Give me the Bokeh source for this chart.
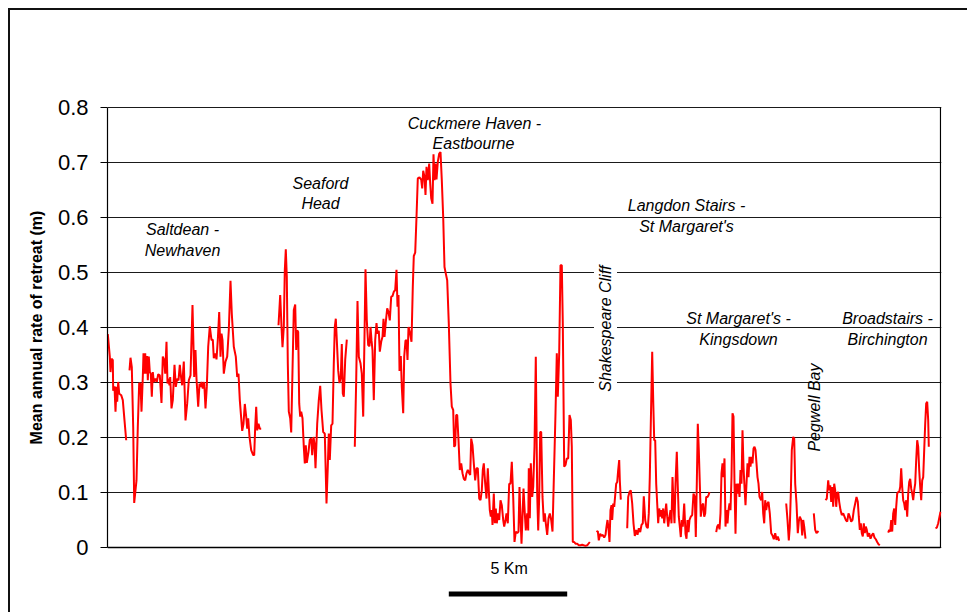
import math
import numpy as np
from bokeh.plotting import figure
from bokeh.models import FixedTicker, Label, Range1d, ColumnDataSource
from bokeh.core.properties import value
from bokeh.embed import file_html
from bokeh.resources import INLINE

# ---------------- data (chainage units along the coast; 118.4 units = 5 km) ----------------
UNITS_PER_KM = 118.4 / 5.0
CHAIN_MAX = 833.0

seg1_chain = [0.3, 2.3, 3, 4, 5.3, 5.7, 7, 8, 9, 9.7, 10.7, 11.7, 13.7, 15.3, 17, 18.7]
seg1_rate = [0.388, 0.347, 0.319, 0.343, 0.341, 0.285, 0.293, 0.247, 0.292, 0.265, 0.301, 0.28, 0.277, 0.268, 0.231, 0.195]

seg2_chain = [22, 23, 24.3, 25.7, 26.7, 29, 30.3, 31.7, 33, 34, 35.3, 36, 37, 37.7, 38.7, 39.7, 40.3, 41.3, 42.3, 43.3,
              44.3, 45.3, 46.3, 48, 49.3, 50.7, 52.3, 54, 55.3, 56.7, 57.7, 59, 60, 61, 62, 62.7, 64, 65.3, 67, 68.3,
              69.7, 71, 72.3, 73.3, 74.7, 76.3, 78, 79.7, 81.3, 83, 85, 86.7, 88, 89, 90.7, 92, 93, 94, 95.3, 96.7,
              98, 99.3, 100.7, 102.3, 104, 105.3, 106.3, 107.7, 109, 110.3, 111.7, 113, 114, 115, 116.3, 118, 119.7,
              121.3, 123, 124.3, 126.3, 128.3, 129.7, 131, 132.3, 134.7, 136, 137.3, 138.7, 139.7, 140.7, 142, 143.7,
              145.7, 146.7, 147.7, 148.7, 149.7, 151, 152.3, 153.7]
seg2_rate = [0.322, 0.345, 0.328, 0.219, 0.081, 0.122, 0.219, 0.299, 0.298, 0.247, 0.31, 0.353, 0.316, 0.353, 0.316,
             0.348, 0.304, 0.347, 0.319, 0.316, 0.274, 0.319, 0.301, 0.307, 0.301, 0.315, 0.313, 0.263, 0.347, 0.341,
             0.316, 0.374, 0.298, 0.307, 0.295, 0.31, 0.253, 0.268, 0.332, 0.292, 0.307, 0.304, 0.332, 0.313, 0.295,
             0.338, 0.231, 0.262, 0.304, 0.313, 0.441, 0.31, 0.359, 0.307, 0.256, 0.298, 0.292, 0.301, 0.289, 0.301,
             0.253, 0.292, 0.365, 0.402, 0.377, 0.378, 0.344, 0.353, 0.342, 0.377, 0.428, 0.347, 0.389, 0.377, 0.316,
             0.338, 0.347, 0.395, 0.485, 0.425, 0.365, 0.347, 0.31, 0.316, 0.268, 0.212, 0.225, 0.261, 0.238, 0.216,
             0.235, 0.201, 0.177, 0.168, 0.168, 0.219, 0.256, 0.213, 0.225, 0.216, 0.216]

seg3_chain = [171, 172.7, 174, 175, 176.3, 177.3, 178.3, 179.3, 180.3, 181.3, 182.7, 183.7, 185, 186.3, 187.7, 188.7,
              189.7, 190.7, 191.7, 192.7, 193.7, 195, 196.3, 197.3, 198.3, 199.3, 201, 202.3, 203.7, 204.7, 206, 207,
              208, 209.7, 211.3, 212.7, 214, 215.7, 217.3, 219, 220.3, 221.3, 222.3, 223.7, 225, 226.3, 227.3, 228.3,
              229.3, 230.7, 232, 233.3, 234.3, 235.3, 236.3, 237.7, 239.3]
seg3_rate = [0.404, 0.459, 0.401, 0.364, 0.401, 0.504, 0.542, 0.492, 0.335, 0.247, 0.235, 0.209, 0.322, 0.432, 0.442,
             0.359, 0.395, 0.392, 0.262, 0.238, 0.247, 0.235, 0.183, 0.153, 0.186, 0.154, 0.174, 0.196, 0.198, 0.168,
             0.201, 0.189, 0.144, 0.225, 0.268, 0.294, 0.25, 0.21, 0.207, 0.08, 0.147, 0.207, 0.159, 0.222, 0.225,
             0.335, 0.401, 0.416, 0.377, 0.322, 0.299, 0.31, 0.37, 0.28, 0.274, 0.341, 0.378]

seg4_chain = [247.3, 248.7, 250, 251.3, 253, 254.3, 255.7, 257, 258, 259.3, 260.7, 262, 263, 264, 265, 266.3, 267.7,
              269, 270, 271.3, 272.3, 273.7, 275, 276, 277, 278.3, 279.7, 281, 282.3, 283.7, 285, 286.3, 287.7, 289,
              290, 291, 292, 293.3, 294.3, 295.7, 296.7, 298, 299, 300, 301,
              302.3, 304, 305.3, 306.3, 307.7, 309, 310.3, 312, 313.7, 314.7, 315.7, 317, 318, 319, 320.3, 321.7,
              322.7, 323.7, 325, 326, 327, 328, 329, 330.3, 331.7, 333, 334.3, 335.7, 337, 338.3, 339.7, 341.3, 343,
              344.3, 345.7, 346.7, 347.7, 348.7, 349.7, 351, 352.3, 353.7, 355, 356.3, 357.7, 359, 360.3, 361.7,
              362.7, 363.7, 365, 366.3, 367.7, 369, 370.3, 371.7, 373, 374.3, 375.3, 376.3, 377.7, 379, 380.3, 381.3,
              382.3, 383.3, 384.3, 385, 386.3, 387.3, 388.3, 389.3, 390.3, 391.7, 393, 394.3, 395.7, 396.7, 398, 399,
              400.3, 401.7, 403, 404.3, 405.7, 407, 408.3, 409.7, 411, 412, 413, 414, 415, 416, 417.3, 418.3, 419.7,
              420.7, 421.3, 422.3, 423.3, 424.7, 425.7, 427, 428.3, 429.7, 430.7, 431.7, 432.7, 433.7, 435, 436.3,
              437.3, 438.3, 439.7, 441, 442.3, 443.7, 445, 446.3, 448, 449.3, 450.3, 451.7, 453, 454.3, 455.3, 456.7,
              458, 459.3, 460.7, 462, 463.3, 464.3, 465.3, 466.7, 468, 469.7, 471.3, 473, 474.7, 478, 479.7, 482.3]
seg4_rate = [0.183, 0.304, 0.448, 0.347, 0.335, 0.316, 0.238, 0.383, 0.506, 0.413, 0.368, 0.366, 0.401, 0.377, 0.359,
             0.268, 0.377, 0.408, 0.389, 0.394, 0.356, 0.374, 0.383, 0.416, 0.383, 0.41, 0.435, 0.428, 0.413, 0.456,
             0.457, 0.465, 0.468, 0.505, 0.438, 0.459, 0.321, 0.348, 0.292, 0.244, 0.347, 0.376, 0.377, 0.341, 0.401,
             0.392, 0.374, 0.474, 0.53, 0.536, 0.601, 0.671, 0.673, 0.669, 0.653, 0.685, 0.674, 0.641, 0.692, 0.668,
             0.698, 0.662, 0.635, 0.625, 0.715, 0.668, 0.698, 0.669, 0.701, 0.716, 0.719, 0.668, 0.601, 0.51, 0.498,
             0.486, 0.407, 0.298, 0.256, 0.25, 0.183, 0.186, 0.241, 0.241, 0.195, 0.141, 0.153, 0.135, 0.125, 0.122,
             0.135, 0.141, 0.135, 0.132, 0.198, 0.186, 0.153, 0.122, 0.144, 0.144, 0.089, 0.086, 0.104, 0.141, 0.153,
             0.116, 0.089, 0.144, 0.104, 0.068, 0.056, 0.068, 0.041, 0.098, 0.044, 0.071, 0.044, 0.062, 0.05, 0.086,
             0.077, 0.05, 0.038, 0.05, 0.062, 0.044, 0.116, 0.116, 0.156, 0.092, 0.01, 0.029, 0.026, 0.029, 0.11,
             0.056, 0.007, 0.056, 0.107, 0.062, 0.031, 0.062, 0.031, 0.144, 0.053, 0.153, 0.092, 0.11, 0.183, 0.347,
             0.098, 0.031, 0.092, 0.21, 0.21, 0.092, 0.047, 0.062, 0.044, 0.023, 0.053, 0.062, 0.05, 0.029, 0.122,
             0.244, 0.353, 0.274, 0.353, 0.513, 0.513, 0.407, 0.147, 0.15, 0.162, 0.162, 0.241, 0.232, 0.183, 0.01,
             0.01, 0.007, 0.007, 0.004, 0.004, 0.005, 0.003, 0.004, 0.01]

seg5_chain = [489, 490.3, 491.3, 492.7, 494, 495.3, 496.7, 498, 499, 500, 501, 502, 503, 504, 504.7, 505.7, 506.7,
              507.7, 508.7, 509.7, 510.7, 511.7, 512.3, 513.3]
seg5_rate = [0.028, 0.03, 0.013, 0.025, 0.021, 0.023, 0.018, 0.023, 0.038, 0.05, 0.035, 0.01, 0.068, 0.077, 0.05,
             0.08, 0.074, 0.095, 0.116, 0.119, 0.141, 0.159, 0.122, 0.087]

seg6_chain = [519.7, 520.7, 522, 523.3, 524.7, 526, 527.3, 528.7, 530, 531.3, 532.7, 534, 535.3, 536.3, 537.7, 539,
              540.3, 541.3, 542.3, 543.3, 544.7, 545.7, 546.7, 547.7, 548.7, 549.7, 550.7, 551.7, 552.7, 553.7, 554.7,
              555.7, 556.7, 557.7, 558.7, 559.7, 560.7, 561.7, 563, 564, 565, 566, 567, 568, 569.3, 570.3, 571.3,
              572.3, 573.3, 574.3, 575.3, 576.7, 578, 579, 580, 581, 582, 583.3, 584.7, 586, 587.3, 588.3, 589.3,
              590.3, 591.3, 592.3, 593.3, 594.7, 595.7, 596.7, 597.7, 598.7, 600, 601, 602]
seg6_rate = [0.035, 0.092, 0.101, 0.104, 0.08, 0.044, 0.021, 0.032, 0.023, 0.035, 0.028, 0.041, 0.044, 0.093, 0.05,
             0.038, 0.035, 0.062, 0.128, 0.225, 0.356, 0.268, 0.195, 0.195, 0.116, 0.08, 0.044, 0.071, 0.056, 0.068,
             0.053, 0.071, 0.044, 0.062, 0.08, 0.056, 0.038, 0.053, 0.068, 0.044, 0.128, 0.08, 0.044, 0.116, 0.174,
             0.11, 0.056, 0.038, 0.019, 0.05, 0.038, 0.08, 0.025, 0.016, 0.05, 0.028, 0.05, 0.056, 0.059, 0.098,
             0.092, 0.019, 0.116, 0.225, 0.177, 0.116, 0.056, 0.077, 0.08, 0.056, 0.062, 0.092, 0.092, 0.095, 0.101]

seg7_chain = [608.7, 609.7, 611, 612, 613, 614, 615, 616, 617, 618, 619, 620, 621, 622, 623, 624, 625, 626, 627, 628,
              629, 630, 631, 632, 633, 634, 635, 636, 637, 638, 639, 640, 641, 642, 643, 644, 645, 646, 647, 648, 649,
              650, 651, 652, 653.7, 654.7, 655.7, 656.7, 657.7, 658.7, 659.7, 661, 662.3, 663.7, 665, 666.3, 667.7,
              669, 670.3, 671.7]
seg7_rate = [0.028, 0.038, 0.042, 0.033, 0.062, 0.135, 0.153, 0.128, 0.162, 0.038, 0.068, 0.044, 0.068, 0.08, 0.068,
             0.128, 0.244, 0.238, 0.116, 0.025, 0.116, 0.098, 0.116, 0.092, 0.141, 0.116, 0.213, 0.147, 0.11, 0.077,
             0.116, 0.153, 0.128, 0.165, 0.147, 0.165, 0.153, 0.18, 0.183, 0.177, 0.153, 0.128, 0.116, 0.092, 0.086,
             0.101, 0.062, 0.044, 0.086, 0.068, 0.079, 0.083, 0.062, 0.026, 0.022, 0.015, 0.026, 0.014, 0.02, 0.012]

seg8_chain = [678.7, 680, 681.3, 682.3, 683.3, 684.3, 685.7, 686.7, 687.7, 689, 690.3, 691.3, 692.3, 693.7, 694.7,
              695.7, 696.7, 698]
seg8_rate = [0.08, 0.05, 0.013, 0.038, 0.098, 0.177, 0.201, 0.198, 0.116, 0.08, 0.026, 0.047, 0.056, 0.05, 0.022,
             0.05, 0.038, 0.016]

seg9_chain = [706.3, 707.7, 709, 711]
seg9_rate = [0.062, 0.032, 0.026, 0.03]

seg10_chain = [718, 719.3, 720.7, 721.7, 722.7, 723.7, 724.7, 725.7, 726.7, 727.7, 728.7, 729.7, 730.7, 731.7, 733,
               734.3, 735.7, 737, 738.3, 739.7, 741, 742.3, 743.7, 745, 746.3, 747.7, 749, 750.3, 751.3, 752.3, 753.3,
               754.3, 755.3, 756.3, 757.3, 758.3, 759.3, 760.3, 761.7, 763, 764.3, 765.7, 767, 768.3, 769.7, 771, 772.3]
seg10_rate = [0.086, 0.089, 0.122, 0.104, 0.113, 0.083, 0.11, 0.074, 0.116, 0.104, 0.074, 0.098, 0.101, 0.083, 0.068,
              0.059, 0.062, 0.056, 0.05, 0.047, 0.062, 0.056, 0.047, 0.05, 0.068, 0.08, 0.092, 0.083, 0.056, 0.032,
              0.044, 0.026, 0.02, 0.044, 0.026, 0.038, 0.032, 0.02, 0.026, 0.016, 0.022, 0.026, 0.018, 0.015, 0.01,
              0.006, 0.004]

seg11_chain = [780.7, 781.7, 782.7, 783.7, 784.7, 785.7, 786.7, 787.7, 788.7, 789.7, 790.7, 791.7, 792.7, 793.7, 794.7,
               795.7, 796.7, 797.7, 798.7, 799.7, 800.7, 801.7, 802.7, 803.7, 804.7, 805.7, 806.7, 807.7, 808.7, 809.7,
               810.7, 811.7, 812.7, 813.7, 814.7, 815.7, 816.7, 817.7, 818.7, 819.7, 820.7, 821.3]
seg11_rate = [0.027, 0.032, 0.029, 0.05, 0.029, 0.062, 0.071, 0.041, 0.074, 0.098, 0.101, 0.101, 0.11, 0.144, 0.11,
              0.086, 0.08, 0.068, 0.086, 0.056, 0.098, 0.119, 0.125, 0.107, 0.098, 0.086, 0.104, 0.116, 0.159, 0.195,
              0.183, 0.141, 0.11, 0.086, 0.122, 0.128, 0.177, 0.225, 0.262, 0.265, 0.231, 0.183]

seg12_chain = [828, 829.3, 830.7, 832, 833]
seg12_rate = [0.035, 0.036, 0.044, 0.056, 0.065]

Y_TICKS = [0.0, 0.1, 0.2, 0.3, 0.4, 0.5, 0.6, 0.7, 0.8]
Y_TICK_LABELS = ["0", "0.1", "0.2", "0.3", "0.4", "0.5", "0.6", "0.7", "0.8"]

# Region labels (two lines each): text, chainage of centre, rate value of line centre
region_text = ["Saltdean -", "Newhaven", "Seaford", "Head", "Cuckmere Haven -", "Eastbourne",
               "Langdon Stairs -", "St Margaret's", "St Margaret's -", "Kingsdown", "Broadstairs -", "Birchington"]
region_chain = [75, 75, 213, 213, 367, 366, 579, 579, 631, 631, 780, 780]
region_rate = [0.578, 0.540, 0.662, 0.625, 0.7715, 0.735, 0.622, 0.584, 0.416, 0.378, 0.416, 0.378]

SCALE_KM = 5
SCALE_START_CHAIN = 341.3

# ---------------- build ----------------
segments = [(seg1_chain, seg1_rate), (seg2_chain, seg2_rate), (seg3_chain, seg3_rate), (seg4_chain, seg4_rate),
            (seg5_chain, seg5_rate), (seg6_chain, seg6_rate), (seg7_chain, seg7_rate), (seg8_chain, seg8_rate),
            (seg9_chain, seg9_rate), (seg10_chain, seg10_rate), (seg11_chain, seg11_rate), (seg12_chain, seg12_rate)]
xs, ys = [], []
for c, r in segments:
    n = min(len(c), len(r))
    xs.extend([v / UNITS_PER_KM for v in c[:n]] + [np.nan])
    ys.extend(list(r[:n]) + [np.nan])

FONT = "Liberation Sans"
W, H = 975, 604                 # canvas px (placed at page 10,10 after margin + border); cut by the window
FRAME_LEFT = 97                 # canvas px of the value axis
ZERO_Y = 537                    # canvas px of rate 0
PX_PER_UNIT_Y = 550.0           # 0.1 of rate = 55 px
pad = (H - ZERO_Y) / PX_PER_UNIT_Y          # frame runs to the canvas bottom ...
top_canvas = ZERO_Y - 0.8 * PX_PER_UNIT_Y - (H - ZERO_Y)   # ... and symmetrically above
y_start, y_end = -pad, 0.8 + pad
x_end_km = (CHAIN_MAX + 1.0) / UNITS_PER_KM
right_pad = W - FRAME_LEFT - 834

p = figure(width=W, height=H, output_backend="svg", toolbar_location=None,
           x_range=Range1d(0, x_end_km), y_range=Range1d(y_start, y_end),
           min_border_left=FRAME_LEFT, min_border_right=right_pad, min_border_top=int(round(top_canvas)),
           min_border_bottom=0)
p.styles = {"margin-left": "8px", "margin-top": "8px",
            "border-left": "2px solid #111111", "border-top": "2px solid #111111"}
p.background_fill_color = "white"
p.border_fill_color = "white"
p.outline_line_color = None

p.xaxis.visible = False
p.xgrid.visible = False
p.ygrid.grid_line_color = "#1a1a1a"
p.ygrid.grid_line_width = 1
p.ygrid.ticker = FixedTicker(ticks=Y_TICKS)

ax = p.yaxis[0]
ax.ticker = FixedTicker(ticks=Y_TICKS)
ax.bounds = (0, 0.8)
ax.major_label_overrides = {t: l for t, l in zip(Y_TICKS, Y_TICK_LABELS)}
ax.major_tick_in = 0
ax.major_tick_out = 7
ax.minor_tick_line_color = None
ax.axis_line_color = "black"
ax.axis_line_width = 1.2
ax.major_tick_line_color = "black"
ax.major_label_standoff = 12
ax.major_label_text_font = FONT
ax.major_label_text_font_size = "22px"
ax.major_label_text_color = "black"
ax.axis_label = "Mean annual rate of retreat (m)"
ax.axis_label_text_font = FONT
ax.axis_label_text_font_style = "bold"
ax.axis_label_text_font_size = "16px"
ax.axis_label_text_color = "black"
ax.axis_label_standoff = 10

# plot-area border pieces: right edge and bottom edge
p.segment(x0=[CHAIN_MAX / UNITS_PER_KM], y0=[0], x1=[CHAIN_MAX / UNITS_PER_KM], y1=[0.8],
          line_color="black", line_width=1.2)
p.segment(x0=[0], y0=[0], x1=[CHAIN_MAX / UNITS_PER_KM], y1=[0], line_color="black", line_width=1.5)

p.line(xs, ys, line_color="#ff0000", line_width=2)

src = ColumnDataSource(dict(x=[c / UNITS_PER_KM for c in region_chain], y=region_rate, t=region_text))
p.text(x="x", y="y", text="t", source=src, text_font=value(FONT), text_font_style="italic",
       text_font_size="16px", text_align="center", text_baseline="middle", text_color="black")

p.add_layout(Label(x=498 / UNITS_PER_KM, y=0.398, text="Shakespeare Cliff", angle=math.pi / 2,
                   text_font=FONT, text_font_style="italic", text_font_size="16px", text_color="black",
                   text_align="center", text_baseline="middle", background_fill_color="white",
                   background_fill_alpha=1.0, padding=3))
p.add_layout(Label(x=707 / UNITS_PER_KM, y=0.2545, text="Pegwell Bay", angle=math.pi / 2,
                   text_font=FONT, text_font_style="italic", text_font_size="16px", text_color="black",
                   text_align="center", text_baseline="middle"))

# 5 km scale bar below the plot
bar_left = SCALE_START_CHAIN / UNITS_PER_KM
p.quad(left=[bar_left], right=[bar_left + SCALE_KM], bottom=[-0.0891], top=[-0.0800],
       fill_color="black", line_color=None)
p.text(x=[bar_left + SCALE_KM / 2 + 0.05], y=[-0.0376], text=[f"{SCALE_KM} Km"], text_font=value(FONT),
       text_font_size="16px", text_align="center", text_baseline="middle", text_color="black")

open("out.html", "w").write(file_html(p, INLINE))
